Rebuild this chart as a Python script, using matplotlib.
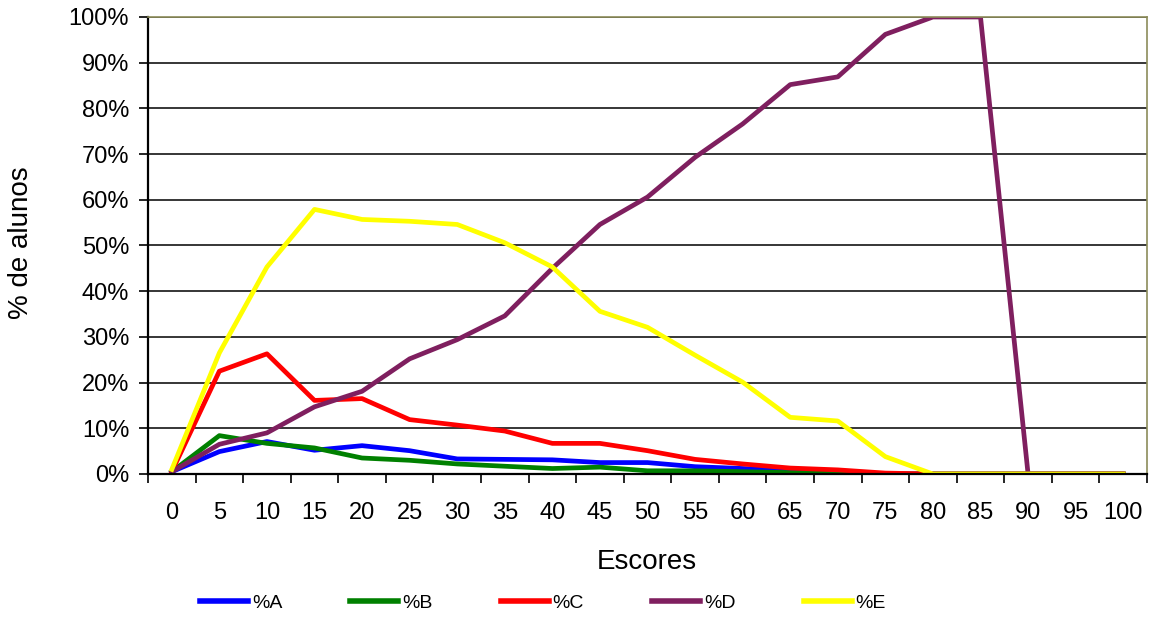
import matplotlib
matplotlib.use("Agg")
import matplotlib.pyplot as plt
import numpy as np
from matplotlib.ticker import FixedLocator, FuncFormatter, NullFormatter

plt.rcParams['font.family'] = ['Liberation Sans', 'DejaVu Sans']

categories = [0, 5, 10, 15, 20, 25, 30, 35, 40, 45, 50, 55, 60, 65, 70, 75, 80, 85, 90, 95, 100]
pct_A = [0.5, 4.9, 7.1, 5.2, 6.2, 5.1, 3.3, 3.2, 3.1, 2.5, 2.5, 1.6, 1.2, 0.7, 0.3, 0, 0, 0, 0, 0, 0]
pct_B = [0.5, 8.4, 6.7, 5.7, 3.5, 3.0, 2.2, 1.7, 1.2, 1.5, 0.7, 0.7, 0.5, 0.3, 0.2, 0, 0, 0, 0, 0, 0]
pct_C = [0.5, 22.5, 26.3, 16.1, 16.5, 11.9, 10.7, 9.4, 6.7, 6.7, 5.1, 3.2, 2.2, 1.3, 0.9, 0.2, 0, 0, 0, 0, 0]
pct_D = [0.5, 6.5, 9.0, 14.7, 18.1, 25.2, 29.4, 34.6, 45.0, 54.6, 60.6, 69.3, 76.6, 85.2, 86.9, 96.2, 100, 100, 0, 0, 0]
pct_E = [1.0, 26.5, 45.3, 57.9, 55.7, 55.3, 54.6, 50.6, 45.3, 35.6, 32.1, 26.0, 20.1, 12.4, 11.6, 3.8, 0, 0, 0, 0, 0]
series_names = ['%A', '%B', '%C', '%D', '%E']
series_colors = ['#0000FF', '#008000', '#FF0000', '#7F1F5F', '#FFFF00']
yticks = list(range(0, 101, 10))

W, H = 1158, 621
fig = plt.figure(figsize=(W / 100, H / 100), dpi=100)
ax = fig.add_axes([148 / W, 1 - 474 / H, (1147 - 148) / W, (474 - 17) / H])

x = np.arange(len(categories))
for vals, name, col in zip([pct_A, pct_B, pct_C, pct_D, pct_E], series_names, series_colors):
    ax.plot(x, vals, color=col, lw=3.4, label=name)

ax.set_xlim(-0.5, len(categories) - 0.5)
ax.set_ylim(0, 100)

# x: tick marks at category boundaries, labels at category centres
ax.xaxis.set_major_locator(FixedLocator(np.arange(-0.5, len(categories), 1.0)))
ax.xaxis.set_major_formatter(NullFormatter())
ax.xaxis.set_minor_locator(FixedLocator(x))
ax.xaxis.set_minor_formatter(FuncFormatter(lambda v, p: str(categories[int(round(v))])))
ax.tick_params(axis='x', which='major', direction='out', length=6.5, width=1.2, color='black')
ax.tick_params(axis='x', which='minor', length=0, pad=20, labelsize=17)

ax.set_yticks(yticks)
ax.yaxis.set_major_formatter(FuncFormatter(lambda v, p: f"{int(v)}%"))
ax.tick_params(axis='y', direction='out', length=6.5, width=1.2, color='black', labelsize=17, pad=7)

ax.grid(axis='y', color='black', lw=1.1)
ax.set_axisbelow(True)

for s in ['top', 'right']:
    ax.spines[s].set_color('#8C8C5A')
    ax.spines[s].set_linewidth(1.2)
for s in ['left', 'bottom']:
    ax.spines[s].set_color('black')
    ax.spines[s].set_linewidth(1.6)

fig.text(647 / W, 1 - 569 / H, 'Escores', fontsize=20, ha='center', va='baseline')
fig.text(21 / W, 1 - 243 / H, '% de alunos', fontsize=20, ha='center', va='center', rotation=90)

leg = fig.legend(loc='center left', bbox_to_anchor=(200 / W, 1 - 603 / H), ncol=5, frameon=False,
                 borderpad=0, borderaxespad=0, fontsize=14, handlelength=2.47, handletextpad=0.2,
                 columnspacing=3.5)
for h in leg.get_lines():
    h.set_linewidth(4)

fig.savefig('out.png', dpi=100)
